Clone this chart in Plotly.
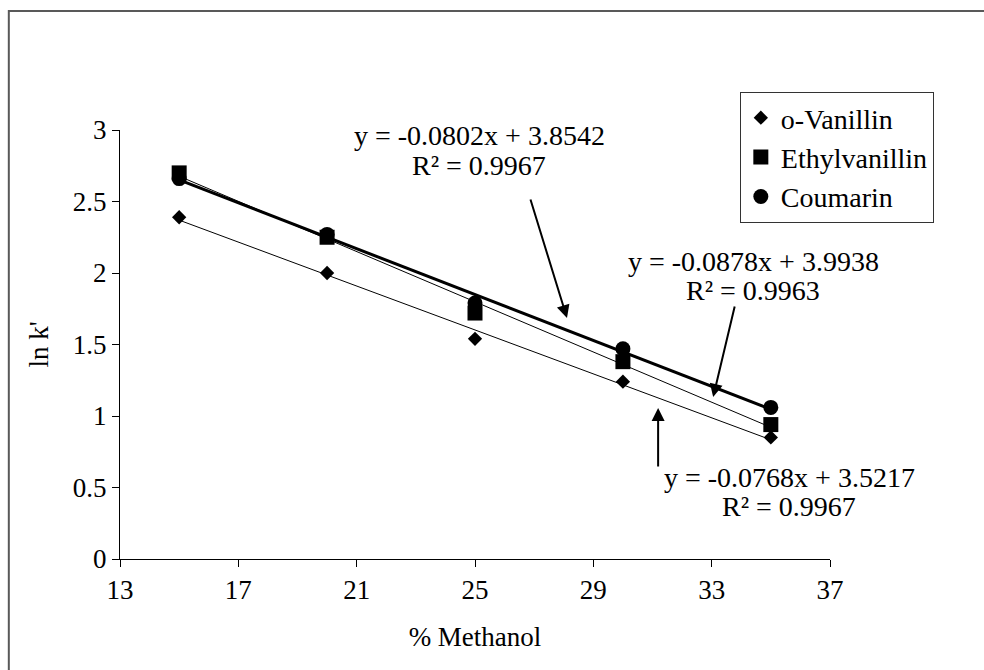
import plotly.graph_objects as go

# % methanol in the mobile phase
methanol = [15, 20, 25, 30, 35]

# ln k' per compound
o_vanillin = [2.39, 2.00, 1.54, 1.24, 0.85]
ethylvanillin = [2.70, 2.25, 1.72, 1.38, 0.94]
coumarin = [2.66, 2.27, 1.79, 1.47, 1.06]

series_names = ["o-Vanillin", "Ethylvanillin", "Coumarin"]

# Linear fits (slope, intercept, R²)
fit_slopes = [-0.0768, -0.0878, -0.0802]
fit_intercepts = [3.5217, 3.9938, 3.8542]
fit_r2 = [0.9967, 0.9963, 0.9967]

x_ticks = [13, 17, 21, 25, 29, 33, 37]
y_ticks = [0, 0.5, 1, 1.5, 2, 2.5, 3]

FONT = "Liberation Serif, Times New Roman, DejaVu Serif, serif"
FS = 27
FS_EQ = 28

fig = go.Figure()

symbols = ["diamond", "square", "circle"]
sizes = [11, 15, 15]
line_widths = [1, 1, 3]
values = [o_vanillin, ethylvanillin, coumarin]

# trend lines across the measured range
x_fit = [methanol[0], methanol[-1]]
for i in range(3):
    fig.add_trace(go.Scatter(
        x=x_fit,
        y=[fit_slopes[i] * v + fit_intercepts[i] for v in x_fit],
        mode="lines",
        line=dict(color="black", width=line_widths[i]),
        showlegend=False,
        hoverinfo="skip",
    ))

for i in range(3):
    fig.add_trace(go.Scatter(
        x=methanol,
        y=values[i],
        mode="markers",
        name=series_names[i],
        marker=dict(symbol=symbols[i], size=sizes[i], color="black",
                    line=dict(width=0)),
    ))


def eq_text(i):
    sign = "+" if fit_intercepts[i] >= 0 else "-"
    return f"y = {fit_slopes[i]:.4f}x {sign} {abs(fit_intercepts[i]):.4f}"


def r2_text(i):
    return f"R² = {fit_r2[i]:.4f}"


annotations = []

# equation labels: (series index, centre x, equation y, R² y)
label_pos = [
    (2, 25.14, 2.962, 2.752),
    (1, 34.40, 2.077, 1.881),
    (0, 35.62, 0.573, 0.364),
]
for idx, cx, ey, ry in label_pos:
    annotations.append(dict(x=cx, y=ey, xref="x", yref="y", text=eq_text(idx),
                            showarrow=False, font=dict(family=FONT, size=FS_EQ, color="black")))
    annotations.append(dict(x=cx, y=ry, xref="x", yref="y", text=r2_text(idx),
                            showarrow=False, font=dict(family=FONT, size=FS_EQ, color="black")))

# pointer arrows: (tail x, tail y, head x, head y)
arrows = [
    (26.86, 2.524, 28.11, 1.685),
    (33.79, 1.776, 33.05, 1.133),
    (31.19, 0.636, 31.19, 1.056),
]
for tx, ty, hx, hy in arrows:
    annotations.append(dict(x=hx, y=hy, ax=tx, ay=ty, xref="x", yref="y",
                            axref="x", ayref="y", text="", showarrow=True,
                            arrowhead=2, arrowsize=1.3, arrowwidth=2,
                            arrowcolor="black", standoff=0, startstandoff=0))

fig.update_layout(
    width=984, height=670,
    margin=dict(l=120, r=154, t=130, b=111),
    paper_bgcolor="white",
    plot_bgcolor="white",
    font=dict(family=FONT, size=FS, color="black"),
    annotations=annotations,
    legend=dict(
        x=0.873, y=1.0886, xanchor="left", yanchor="top",
        bordercolor="#333333", borderwidth=1, bgcolor="white",
        font=dict(family=FONT, size=28, color="black"),
        itemwidth=30,
    ),
    shapes=[
        dict(type="rect", xref="paper", yref="paper",
             x0=-0.1566, y0=-0.30, x1=1.40, y1=1.2774,
             line=dict(color="#595959", width=2), layer="below"),
    ],
)

fig.update_xaxes(
    range=[13, 37], tickvals=x_ticks, ticktext=[str(v) for v in x_ticks],
    showgrid=False, zeroline=False, showline=True, linecolor="black", linewidth=1,
    ticks="outside", ticklen=7, tickcolor="black",
    title=dict(text="% Methanol", standoff=22, font=dict(family=FONT, size=FS)),
)
fig.update_yaxes(
    range=[0, 3], tickvals=y_ticks, ticktext=[f"{v:g}" for v in y_ticks],
    showgrid=False, zeroline=False, showline=True, linecolor="black", linewidth=1,
    ticks="outside", ticklen=7, tickcolor="black",
    title=dict(text="ln k'", standoff=16, font=dict(family=FONT, size=FS)),
)

fig.write_html("out.html")
